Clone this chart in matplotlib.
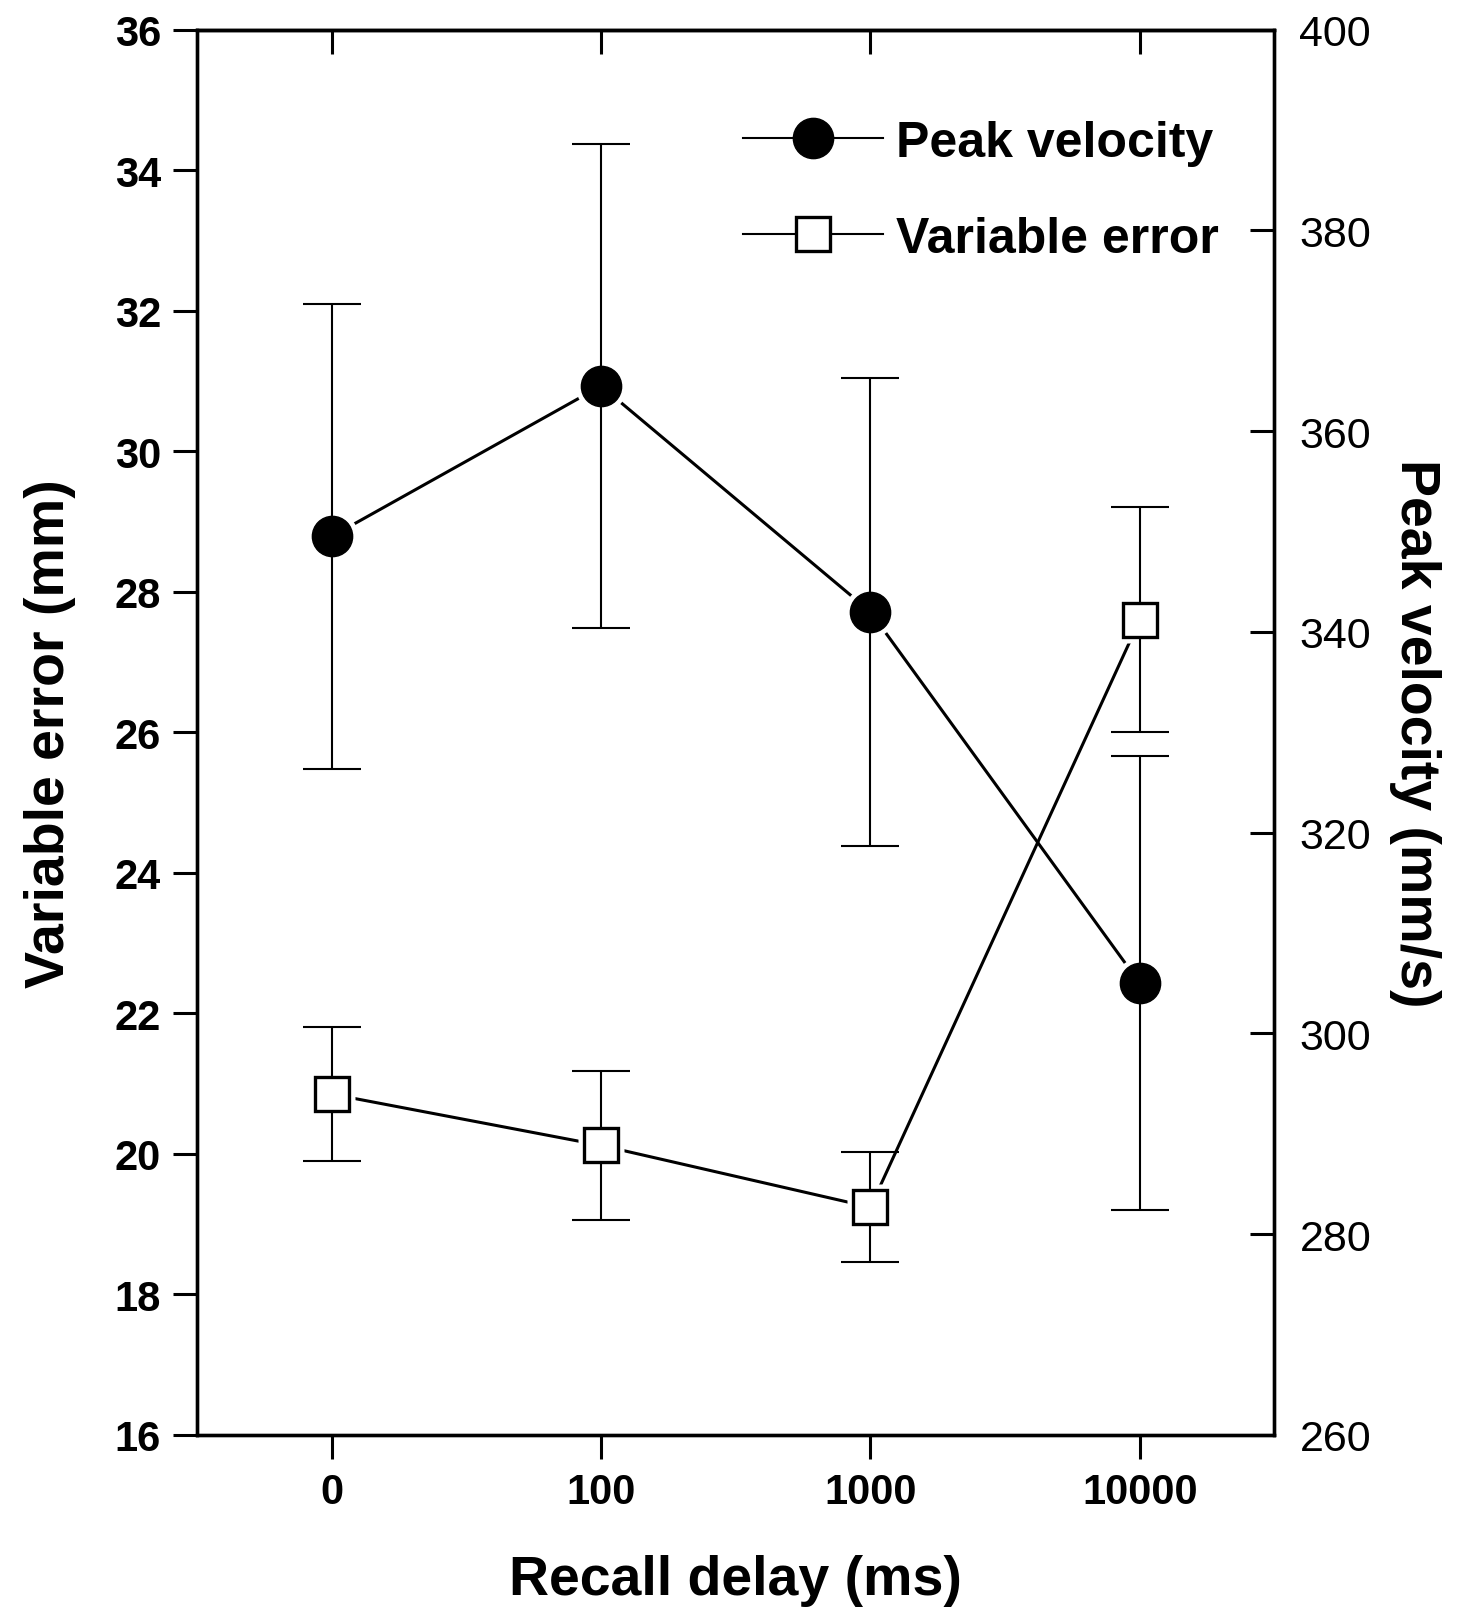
import numpy as np
import matplotlib.pyplot as plt
from matplotlib.lines import Line2D

plt.rcParams['font.family'] = ['Liberation Sans', 'DejaVu Sans']

delays = ['0', '100', '1000', '10000']
var_err = [20.85, 20.12, 19.24, 27.60]
var_err_sd = [0.95, 1.06, 0.78, 1.60]
peak_vel = [349.5, 364.5, 342.0, 305.0]
peak_vel_sd = [23.2, 24.1, 23.3, 22.6]

x = np.arange(len(delays))

fig = plt.figure(figsize=(14.7, 16.08), dpi=100)
ax = fig.add_axes([0.134, 0.107, 0.733, 0.874])
ax2 = ax.twinx()

# variable error (left axis) - line, white mask for the gap, bars, markers
ax.plot(x, var_err, color='black', lw=2.2, zorder=2)
ax.plot(x, var_err, 's', ms=33, mfc='white', mec='none', zorder=3)
ax.errorbar(x, var_err, yerr=var_err_sd, fmt='none', ecolor='black',
            elinewidth=1.5, capsize=21, capthick=1.5, zorder=4)
ax.plot(x, var_err, 's', ms=24, mfc='white', mec='black', mew=2.4, zorder=5)

# peak velocity (right axis)
ax2.plot(x, peak_vel, color='black', lw=2.2, zorder=2)
ax2.plot(x, peak_vel, 'o', ms=37, mfc='white', mec='none', zorder=3)
ax2.errorbar(x, peak_vel, yerr=peak_vel_sd, fmt='none', ecolor='black',
             elinewidth=1.5, capsize=21, capthick=1.5, zorder=4)
ax2.plot(x, peak_vel, 'o', ms=29, mfc='black', mec='black', zorder=5)

ax.set_xlim(-0.5, 3.5)
ax.set_ylim(16, 36)
ax.set_yticks(np.arange(16, 37, 2))
ax2.set_ylim(260, 400)
ax2.set_yticks(np.arange(260, 401, 20))
ax.set_xticks(x)
ax.set_xticklabels(delays)

for a in (ax, ax2):
    for s in a.spines.values():
        s.set_linewidth(2.4)

ax.tick_params(axis='both', direction='out', length=17, width=2.2, labelsize=30)
ax.tick_params(axis='y', pad=9)
ax.tick_params(axis='x', pad=10)
for lab in ax.get_yticklabels() + ax.get_xticklabels():
    lab.set_fontweight('bold')
ax2.tick_params(axis='y', direction='in', length=17, width=2.2, labelsize=31, pad=18)

top = ax.secondary_xaxis('top')
top.set_xticks(x)
top.tick_params(direction='in', length=17, width=2.2, labeltop=False)
top.spines['top'].set_linewidth(2.4)

ax.set_ylabel('Variable error (mm)', fontsize=40, fontweight='bold', labelpad=28)
ax.set_xlabel('Recall delay (ms)', fontsize=40, fontweight='bold', labelpad=30)
ax2.set_ylabel('Peak velocity (mm/s)', fontsize=40, fontweight='bold',
               rotation=270, labelpad=50)

handles = [
    Line2D([], [], color='black', lw=1.5, marker='o', ms=29, mfc='black'),
    Line2D([], [], color='black', lw=1.5, marker='s', ms=24, mfc='white',
           mec='black', mew=2.4),
]
ax2.legend(handles, ['Peak velocity', 'Variable error'], loc='upper right',
           bbox_to_anchor=(0.99, 0.968), frameon=False,
           prop={'size': 36, 'weight': 'bold'}, handlelength=2.8,
           handletextpad=0.25, labelspacing=1.0)

fig.savefig('out.png', dpi=100)
